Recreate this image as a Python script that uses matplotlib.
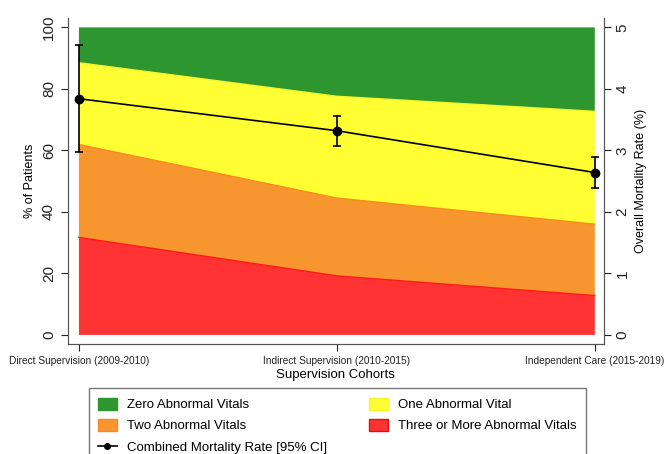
import matplotlib.pyplot as plt
import matplotlib.patches as mpatches
from matplotlib.lines import Line2D

plt.rcParams['font.family'] = ['Liberation Sans', 'DejaVu Sans']

cohorts = ['Direct Supervision (2009-2010)', 'Indirect Supervision (2010-2015)', 'Independent Care (2015-2019)']
three_plus = [31.7, 19.2, 12.8]
two = [30.2, 25.3, 23.2]
one = [26.6, 33.1, 36.7]
zero = [11.5, 22.4, 27.3]
mortality = [3.84, 3.32, 2.64]
ci_low = [2.97, 3.07, 2.39]
ci_high = [4.72, 3.56, 2.89]

x = list(range(len(cohorts)))

fig = plt.figure(figsize=(6.65, 4.54), dpi=100)
ax = fig.add_axes([0.102, 0.242, 0.806, 0.718])

colors = ['#ff3333', '#f7962f', '#ffff33', '#2e962e']
edges = ['#ff1a1a', '#f88a1e', '#f5f52a', '#2e962e']
ax.stackplot(x, three_plus, two, one, zero, colors=colors, edgecolor=None, linewidth=0)
# thin boundary lines
base = [0, 0, 0]
for vals, ec in zip([three_plus, two, one], edges):
    base = [b + v for b, v in zip(base, vals)]
    ax.plot(x, base, color=ec, lw=1.0)

ax.set_xlim(-0.043, 2.035)
ax.set_ylim(-3, 103)
ax.set_xticks(x)
ax.set_xticklabels(cohorts, fontsize=7.3)
ax.set_yticks([0, 20, 40, 60, 80, 100])
ax.set_yticklabels(['0', '20', '40', '60', '80', '100'], rotation=90, va='center', fontsize=11)
ax.set_ylabel('% of Patients', fontsize=9)
ax.set_xlabel('Supervision Cohorts', fontsize=9.5, labelpad=2)
ax.spines['top'].set_visible(False)
for s in ['left', 'bottom', 'right']:
    ax.spines[s].set_color('#555555')
ax.tick_params(colors='#222222', length=5)

ax2 = ax.twinx()
ax2.set_ylim(-3 / 20, 103 / 20)
ax2.errorbar(x, mortality,
             yerr=[[m - l for m, l in zip(mortality, ci_low)], [h - m for m, h in zip(mortality, ci_high)]],
             color='black', lw=1.2, marker='o', ms=6, capsize=3, capthick=1.2, elinewidth=1.2)
ax2.set_yticks([0, 1, 2, 3, 4, 5])
ax2.set_yticklabels(['0', '1', '2', '3', '4', '5'], rotation=90, va='center', fontsize=11)
ax2.set_ylabel('Overall Mortality Rate (%)', fontsize=9, rotation=90)
ax2.spines['top'].set_visible(False)
for s in ['left', 'bottom', 'right']:
    ax2.spines[s].set_color('#555555')
ax2.tick_params(colors='#222222', length=5)

handles = [
    mpatches.Patch(facecolor='#2e962e', edgecolor='#2e962e', label='Zero Abnormal Vitals'),
    mpatches.Patch(facecolor='#f7962f', edgecolor='#f88a1e', label='Two Abnormal Vitals'),
    Line2D([0], [0], color='black', marker='o', ms=4, lw=1.2, label='Combined Mortality Rate [95% CI]'),
    mpatches.Patch(facecolor='#ffff33', edgecolor='#f5f52a', label='One Abnormal Vital'),
    mpatches.Patch(facecolor='#ff3333', edgecolor='#e01010', label='Three or More Abnormal Vitals'),
]
leg = fig.legend(handles=handles, ncol=2, loc='upper left',
                 bbox_to_anchor=(89 / 665, 1 - 393 / 454, 497 / 665, 0.01), mode='expand',
                 borderaxespad=0, fontsize=9.5, frameon=True, fancybox=False, edgecolor='#555555',
                 handlelength=1.4, handleheight=1.0, labelspacing=0.6, borderpad=0.7,
                 handletextpad=0.8)
leg.get_frame().set_linewidth(1.0)

fig.savefig('out.png', dpi=100)
